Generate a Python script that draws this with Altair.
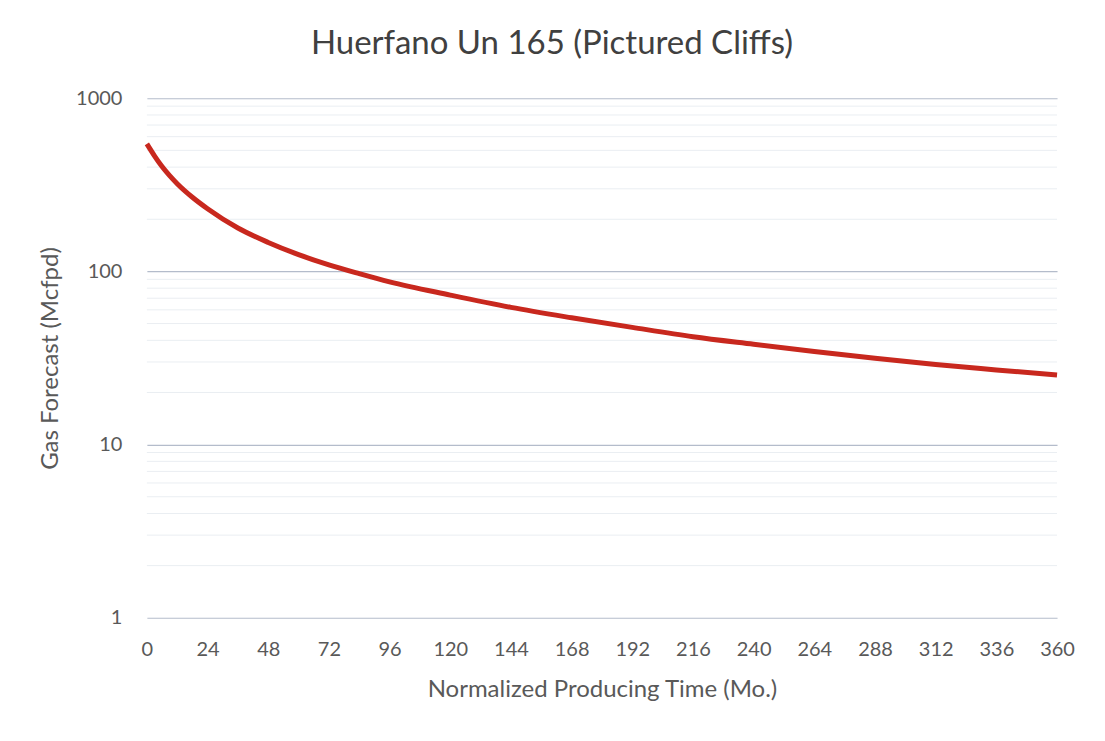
import altair as alt
import pandas as pd

# Decline curve
months = [0, 3, 6, 9, 12, 18, 24, 36, 48, 60, 72, 84, 96, 120, 144, 168, 192, 216, 240, 264, 288, 312, 336, 360]
gas = [545, 465, 403, 357, 321, 268, 230, 178, 147, 125, 109, 97, 87, 73, 62, 54, 47.5, 42, 38, 34.5, 31.5, 29, 27, 25.2]

x_ticks = list(range(0, 361, 24))
y_major = [1, 10, 100, 1000]
y_minor = [2, 3, 4, 5, 6, 7, 8, 9, 20, 30, 40, 50, 60, 70, 80, 90,
           200, 300, 400, 500, 600, 700, 800, 900]

df = pd.DataFrame({"month": months, "gas": gas})
minor_df = pd.DataFrame({"v": y_minor})

FONT = "Lato"

yscale = alt.Scale(type="log", domain=[1, 1000], nice=False)
xscale = alt.Scale(domain=[0, 360], nice=False)

y_axis = alt.Axis(values=y_major, format="d", grid=True, gridColor="#b4bccb",
                  gridWidth=1.2, ticks=False, domain=False,
                  title="Gas Forecast (Mcfpd)",
                  labelFont=FONT, labelFontSize=20, labelColor="#595959",
                  labelPadding=25, titleFont=FONT, titleFontSize=24,
                  titleFontWeight="normal", titleColor="#595959",
                  titlePadding=13)

minor = alt.Chart(minor_df).mark_rule(color="#eaeef2", strokeWidth=1).encode(
    y=alt.Y("v:Q", scale=yscale, axis=y_axis, title="Gas Forecast (Mcfpd)")
)

line = alt.Chart(df).mark_line(color="#c8281e", strokeWidth=5, interpolate="monotone").encode(
    x=alt.X("month:Q", scale=xscale,
            axis=alt.Axis(values=x_ticks, grid=False, ticks=False, domain=False,
                          labelFlush=False, labelOverlap=False,
                          title="Normalized Producing Time (Mo.)",
                          labelFont=FONT, labelFontSize=20, labelColor="#595959",
                          labelPadding=22, titleFont=FONT, titleFontSize=24,
                          titleFontWeight="normal", titleColor="#595959",
                          titlePadding=18)),
    y=alt.Y("gas:Q", scale=yscale, axis=y_axis, title="Gas Forecast (Mcfpd)"),
)

chart = alt.layer(minor, line).properties(
    width=911,
    height=520,
    background="#ffffff",
    title=alt.TitleParams("Huerfano Un 165 (Pictured Cliffs)", font=FONT, fontSize=33,
                          fontWeight="normal", color="#404040", dx=-50, offset=27),
    autosize=alt.AutoSizeParams(type="none"),
    padding={"left": 139, "top": 90, "right": 40, "bottom": 100},
).configure_view(stroke="transparent", strokeWidth=0)

chart.save("out.html", embed_options={"renderer": "svg", "actions": False})
